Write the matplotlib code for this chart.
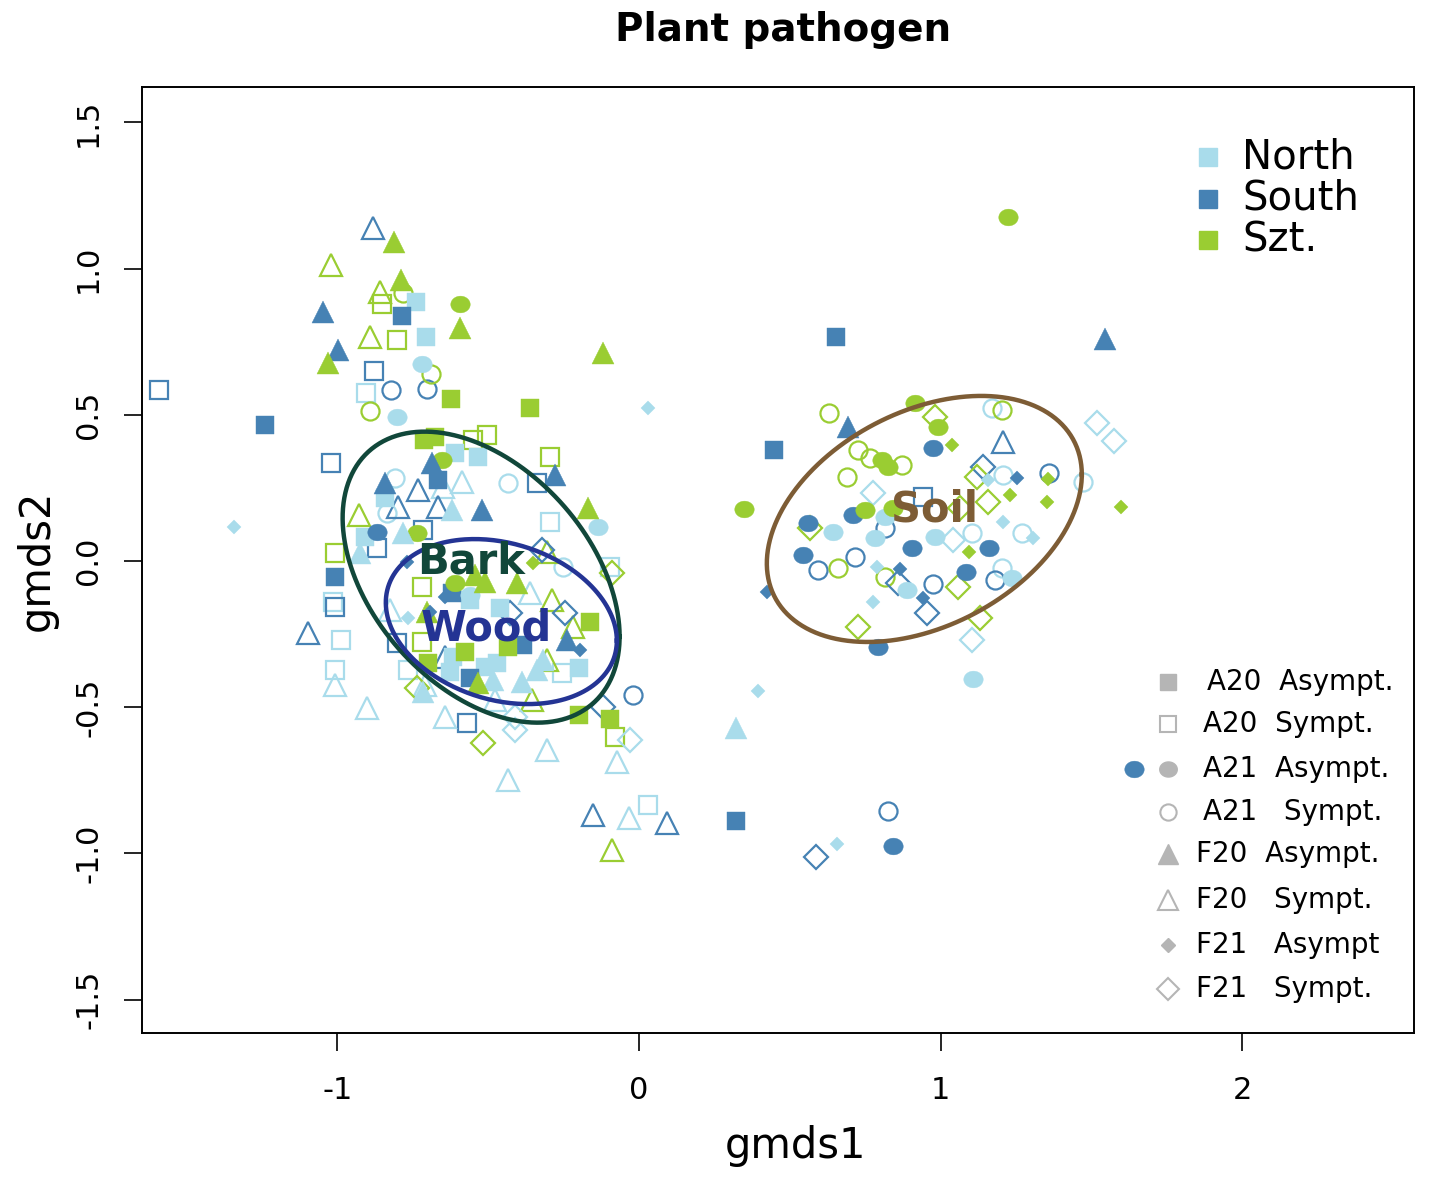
import numpy as np
import matplotlib
matplotlib.use("Agg")
import matplotlib.pyplot as plt
from matplotlib.path import Path

# ---------------- data (gmds1, gmds2, region) ----------------
# region codes: N = North, S = South, Z = Szt.
# A20 Asympt. (filled square)
a20a_x = [-0.739, -0.706, -0.610, -0.534, -0.842, -0.908, -0.617, -0.626, -0.560, -0.461, -0.510, -0.471, -0.199,
          -0.786, -1.240, -0.666, -1.008, 0.447, 0.653, 0.322, -0.384, -0.560, -0.620,
          -0.623, -0.713, -0.676, -0.361, -0.434, -0.699, -0.162, -0.199, -0.096, -0.577]
a20a_y = [0.886, 0.766, 0.369, 0.356, 0.215, 0.082, -0.328, -0.380, -0.133, -0.161, -0.363, -0.349, -0.366,
          0.838, 0.465, 0.277, -0.055, 0.380, 0.766, -0.889, -0.287, -0.400, -0.110,
          0.554, 0.414, 0.424, 0.523, -0.294, -0.349, -0.209, -0.527, -0.540, -0.311]
a20a_r = list("NNNNNNNNNNNNN") + list("SSSSSSSSSS") + list("ZZZZZZZZZZ")

# A20 Sympt. (open square)
a20s_x = [-0.905, -0.295, -1.014, -0.988, -1.008, -0.766, 0.030, -0.096, -0.255,
          -0.878, -1.591, -1.021, -0.338, -0.716, -0.868, -1.008, -0.802, -0.570, 0.941,
          -0.852, -0.802, -0.550, -0.504, -0.295, -1.008, -0.719, -0.719, -0.080]
a20s_y = [0.575, 0.133, -0.140, -0.270, -0.373, -0.373, -0.834, -0.021, -0.383,
          0.650, 0.585, 0.335, 0.267, 0.106, 0.044, -0.157, -0.280, -0.554, 0.219,
          0.879, 0.756, 0.414, 0.431, 0.356, 0.027, -0.089, -0.277, -0.602]
a20s_r = list("NNNNNNNNN") + list("SSSSSSSSSS") + list("ZZZZZZZZZ")

# A21 Asympt. (filled circle)
a21a_x = [-0.719, -0.802, -0.136, -0.560, 0.815, 0.643, 0.782, 0.981, 0.888, 1.236, 1.107,
          -0.868, 0.974, 0.709, 0.560, 0.905, 0.544, 1.160, 1.084, 0.792, 0.842, 1.641,
          -0.593, -0.653, -0.736, -0.610, 0.348, 1.223, 0.915, 0.991, 0.805, 0.825, 0.749, 0.842]
a21a_y = [0.674, 0.492, 0.116, -0.116, 0.150, 0.099, 0.079, 0.082, -0.099, -0.058, -0.404,
          0.099, 0.386, 0.157, 0.130, 0.044, 0.021, 0.044, -0.038, -0.294, -0.975, -0.711,
          0.879, 0.345, 0.096, -0.075, 0.178, 1.176, 0.540, 0.458, 0.345, 0.321, 0.174, 0.181]
a21a_r = list("NNNNNNNNNNN") + list("SSSSSSSSSSS") + list("ZZZZZZZZZZZZ")

# A21 Sympt. (open circle)
a21s_x = [-0.809, -0.835, -0.434, -0.252, 1.170, 1.472, 1.269, 1.104, 1.203, 1.206,
          -0.822, -0.703, -0.020, 0.825, 0.815, 0.593, 0.716, 0.974, 1.180, 1.359,
          -0.782, -0.689, -0.892, 0.630, 0.726, 0.766, 0.872, 0.689, 0.660, 0.815, 1.203]
a21s_y = [0.284, 0.164, 0.267, -0.021, 0.523, 0.270, 0.096, 0.096, -0.024, 0.294,
          0.585, 0.588, -0.458, -0.855, 0.113, -0.031, 0.014, -0.079, -0.065, 0.301,
          0.917, 0.640, 0.513, 0.506, 0.380, 0.352, 0.328, 0.287, -0.024, -0.055, 0.516]
a21s_r = list("NNNNNNNNNN") + list("SSSSSSSSSS") + list("ZZZZZZZZZZZ")

# F20 Asympt. (filled triangle)
f20a_x = [-0.620, -0.782, -0.925, -0.716, -0.318, -0.338, -0.484, 0.322, -0.388,
          -1.047, -0.998, -0.686, -0.842, -0.520, -0.278, -0.239, 0.693, 1.545,
          -0.812, -0.789, -0.593, -1.031, -0.119, -0.169, -0.703, -0.544, -0.510, -0.404, -0.534]
f20a_y = [0.174, 0.096, 0.027, -0.448, -0.339, -0.373, -0.407, -0.571, -0.414,
          0.852, 0.722, 0.335, 0.267, 0.174, 0.294, -0.270, 0.458, 0.759,
          1.091, 0.961, 0.797, 0.677, 0.711, 0.181, -0.174, -0.048, -0.072, -0.075, -0.417]
f20a_r = list("NNNNNNNNN") + list("SSSSSSSSS") + list("ZZZZZZZZZZZ")

# F20 Sympt. (open triangle)
f20s_x = [-0.587, -0.650, -0.825, -1.008, -0.902, -0.643, -0.305, -0.434, -0.073, -0.033, -0.361, -0.709, -0.477,
          -0.882, -0.733, -0.799, -0.666, -1.097, -0.152, 0.093, 1.206, -0.643,
          -1.021, -0.858, -0.892, -0.928, -0.288, -0.219, -0.305, -0.355, -0.089, -0.305]
f20s_y = [0.270, 0.253, -0.168, -0.424, -0.503, -0.534, -0.646, -0.749, -0.687, -0.879, -0.109, -0.424, -0.475,
          1.139, 0.243, 0.185, 0.185, -0.246, -0.869, -0.896, 0.407, -0.328,
          1.012, 0.920, 0.766, 0.157, -0.133, -0.226, -0.339, -0.475, -0.988, 0.031]
f20s_r = list("NNNNNNNNNNNNN") + list("SSSSSSSSS") + list("ZZZZZZZZZZ")

# F21 Asympt (small filled diamond)
f21a_x = [-1.342, 0.030, -0.766, 0.394, 0.656, 0.776, 0.789, 1.157, 1.206, 1.306,
          -0.769, -0.693, -0.643, -0.196, 0.424, 0.865, 0.941, 1.253,
          -0.351, 1.037, 1.230, 1.356, 1.352, 1.598, 1.094]
f21a_y = [0.116, 0.523, -0.195, -0.445, -0.968, -0.140, -0.021, 0.277, 0.133, 0.079,
          -0.003, -0.174, -0.123, -0.304, -0.106, -0.027, -0.127, 0.284,
          -0.007, 0.397, 0.226, 0.280, 0.202, 0.185, 0.031]
f21a_r = list("NNNNNNNNNN") + list("SSSSSSSS") + list("ZZZZZZZ")

# F21 Sympt. (open diamond)
f21s_x = [-0.411, -0.411, -0.030, 1.518, 1.574, 0.776, 1.104, 1.041,
          -0.322, -0.119, 0.587, 0.955, 1.140, -0.245, -0.428, 0.858,
          -0.736, -0.517, -0.089, 0.981, 0.567, 0.726, 1.120, 1.157, 1.057, 1.130, 1.064]
f21s_y = [-0.534, -0.578, -0.612, 0.472, 0.410, 0.233, -0.270, 0.072,
          0.038, -0.499, -1.012, -0.178, 0.321, -0.178, -0.178, -0.075,
          -0.434, -0.622, -0.041, 0.492, 0.113, -0.226, 0.287, 0.202, -0.089, -0.195, 0.181]
f21s_r = list("NNNNNNNN") + list("SSSSSSSS") + list("ZZZZZZZZZZZ")

# group ellipses: centre (x, y), covariance (sxx, syy, sxy)
ell_names = ["Bark", "Wood", "Soil"]
ell_cx = [-0.523, -0.456, 0.946]
ell_cy = [-0.055, -0.207, 0.144]
ell_sxx = [0.2107, 0.1466, 0.2725]
ell_syy = [0.2476, 0.0796, 0.1770]
ell_sxy = [-0.0930, -0.0249, 0.0793]
ell_label_x = [-0.555, -0.505, 0.980]
ell_label_y = [0.000, -0.230, 0.175]

region_names = ["North", "South", "Szt."]
shape_labels = ["A20  Asympt.", "A20  Sympt.", "A21  Asympt.", "A21   Sympt.",
                "F20  Asympt.", "F20   Sympt.", "F21   Asympt", "F21   Sympt."]

# ---------------- styling ----------------
region_colors = {"N": "#A9DCEB", "S": "#4682B4", "Z": "#9ACD32"}
ell_colors = ["#11473A", "#243494", "#7D5C35"]

t = np.linspace(0, 2 * np.pi, 60)
ellipse_marker = Path(np.column_stack([np.cos(t), 0.86 * np.sin(t)]), closed=True)

styles = [
    dict(marker="s", ms=12.5, filled=True),
    dict(marker="s", ms=12.5, filled=False),
    dict(marker=ellipse_marker, ms=14, filled=True),
    dict(marker="o", ms=13, filled=False),
    dict(marker="^", ms=15.5, filled=True),
    dict(marker="^", ms=16, filled=False),
    dict(marker="D", ms=7.5, filled=True),
    dict(marker="D", ms=12.5, filled=False),
]
groups = [(a20a_x, a20a_y, a20a_r), (a20s_x, a20s_y, a20s_r),
          (a21a_x, a21a_y, a21a_r), (a21s_x, a21s_y, a21s_r),
          (f20a_x, f20a_y, f20a_r), (f20s_x, f20s_y, f20s_r),
          (f21a_x, f21a_y, f21a_r), (f21s_x, f21s_y, f21s_r)]

plt.rcParams['font.family'] = ['DejaVu Sans']
fig = plt.figure(figsize=(14.30, 11.81), dpi=100)
ax = fig.add_axes([0.0993, 0.1253, 0.8895, 0.801])

order = [1, 3, 5, 7, 0, 2, 4, 6]
for gi in order:
    xs, ys, rs = groups[gi]
    st = styles[gi]
    for reg in ["N", "S", "Z"]:
        px = [x for x, r in zip(xs, rs) if r == reg]
        py = [y for y, r in zip(ys, rs) if r == reg]
        c = region_colors[reg]
        if st["filled"]:
            ax.plot(px, py, linestyle="none", marker=st["marker"], ms=st["ms"],
                    mfc=c, mec=c, mew=0.3, zorder=3)
        else:
            ax.plot(px, py, linestyle="none", marker=st["marker"], ms=st["ms"],
                    mfc="none", mec=c, mew=1.6, zorder=3)

# ellipses
for i in range(3):
    cov = np.array([[ell_sxx[i], ell_sxy[i]], [ell_sxy[i], ell_syy[i]]])
    L = np.linalg.cholesky(cov)
    tt = np.linspace(0, 2 * np.pi, 300)
    pts = L @ np.vstack([np.cos(tt), np.sin(tt)])
    ax.plot(ell_cx[i] + pts[0], ell_cy[i] + pts[1], color=ell_colors[i], lw=3.2, zorder=4)
    ax.text(ell_label_x[i], ell_label_y[i], ell_names[i], color=ell_colors[i], fontsize=30,
            fontweight="bold", ha="center", va="center", zorder=5)

ax.set_xlim(-1.647, 2.569)
ax.set_ylim(-1.614, 1.621)
ax.set_xticks([-1, 0, 1, 2])
ax.set_xticklabels(["-1", "0", "1", "2"])
ax.set_yticks([-1.5, -1.0, -0.5, 0.0, 0.5, 1.0, 1.5])
ax.set_yticklabels(["-1.5", "-1.0", "-0.5", "0.0", "0.5", "1.0", "1.5"], rotation=90, va="center")
ax.tick_params(axis="both", labelsize=22, length=13, width=1.2, direction="out")
ax.tick_params(axis="x", pad=18)
ax.tick_params(axis="y", pad=15)
for sp in ax.spines.values():
    sp.set_linewidth(1.4)
ax.set_xlabel("gmds1", fontsize=30)
ax.xaxis.set_label_coords(0.514, -0.097)
ax.set_ylabel("gmds2", fontsize=30, labelpad=12)
fig.text(0.5475, 0.975, "Plant pathogen", fontsize=28, fontweight="bold", ha="center", va="center")

# region legend
leg_y = [0.926, 0.882, 0.838]
for reg, name, yy in zip(["N", "S", "Z"], region_names, leg_y):
    ax.plot([0.838], [yy], transform=ax.transAxes, marker="s", ms=13, linestyle="none",
            mfc=region_colors[reg], mec=region_colors[reg], clip_on=False, zorder=6)
    ax.text(0.865, yy, name, transform=ax.transAxes, fontsize=29, va="center", ha="left", zorder=6)

# shape legend
gray = "#B5B5B5"
shape_y = [0.371, 0.327, 0.279, 0.234, 0.189, 0.141, 0.093, 0.0465]
shape_tx = [0.837, 0.834, 0.834, 0.834, 0.829, 0.829, 0.829, 0.829]
for i in range(8):
    st = styles[i]
    ms = st["ms"] * 0.9
    if st["filled"]:
        ax.plot([0.807], [shape_y[i]], transform=ax.transAxes, marker=st["marker"], ms=ms,
                mfc=gray, mec=gray, linestyle="none", zorder=6)
    else:
        ax.plot([0.807], [shape_y[i]], transform=ax.transAxes, marker=st["marker"], ms=ms,
                mfc="none", mec=gray, mew=1.5, linestyle="none", zorder=6)
    ax.text(shape_tx[i], shape_y[i], shape_labels[i], transform=ax.transAxes, fontsize=20,
            va="center", ha="left", zorder=6)

fig.savefig("out.png", dpi=100)
